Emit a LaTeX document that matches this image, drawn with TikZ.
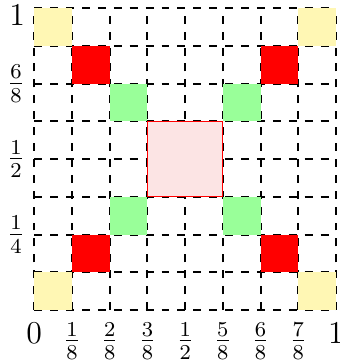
\documentclass[tikz,border=0pt]{standalone}
\begin{document}
\begin{tikzpicture}[x=0.5cm,y=0.5cm,font=\large,
  gridline/.style={thick,dashed,black},
  ycell/.style={fill={rgb,255:red,255;green,247;blue,180}},
  rcell/.style={fill=red},
  gcell/.style={fill={rgb,255:red,153;green,255;blue,153}},
  pcell/.style={fill={rgb,255:red,252;green,228;blue,228},draw=red,line width=0.4pt},
  xlab/.style={below,yshift=-1.2pt},
  ylab/.style={left}]
\useasboundingbox (-0.909,-1.325) rectangle (8.079,8.22);
\draw[gridline] (0,0) grid[step=1] (8,8);
% yellow
\path[ycell] (0,7) rectangle (1,8);
\path[ycell] (7,7) rectangle (8,8);
\path[ycell] (0,0) rectangle (1,1);
\path[ycell] (7,0) rectangle (8,1);
% red
\path[rcell] (1,6) rectangle (2,7);
\path[rcell] (6,6) rectangle (7,7);
\path[rcell] (1,1) rectangle (2,2);
\path[rcell] (6,1) rectangle (7,2);
% green
\path[gcell] (2,5) rectangle (3,6);
\path[gcell] (5,5) rectangle (6,6);
\path[gcell] (2,2) rectangle (3,3);
\path[gcell] (5,2) rectangle (6,3);
% pink centre
\draw[pcell] (3,3) rectangle (5,5);
% x labels
\node[xlab] (x0) at (0,0) {$0$};
\node[xlab] (x1) at (1,0) {$\frac{1}{8}$};
\node[xlab] (x2) at (2,0) {$\frac{2}{8}$};
\node[xlab] (x3) at (3,0) {$\frac{3}{8}$};
\node[xlab] (x4) at (4,0) {$\frac{1}{2}$};
\node[xlab] (x5) at (5,0) {$\frac{5}{8}$};
\node[xlab] (x6) at (6,0) {$\frac{6}{8}$};
\node[xlab] (x7) at (7,0) {$\frac{7}{8}$};
\node[xlab] (x8) at (8,0) {$1$};
% y labels
\node[ylab,yshift=-2.5pt] (y8) at (0,8) {$1$};
\node[ylab] (y6) at (0,6) {$\frac{6}{8}$};
\node[ylab] (y4) at (0,4) {$\frac{1}{2}$};
\node[ylab] (y2) at (0,2) {$\frac{1}{4}$};
\end{tikzpicture}
\end{document}
